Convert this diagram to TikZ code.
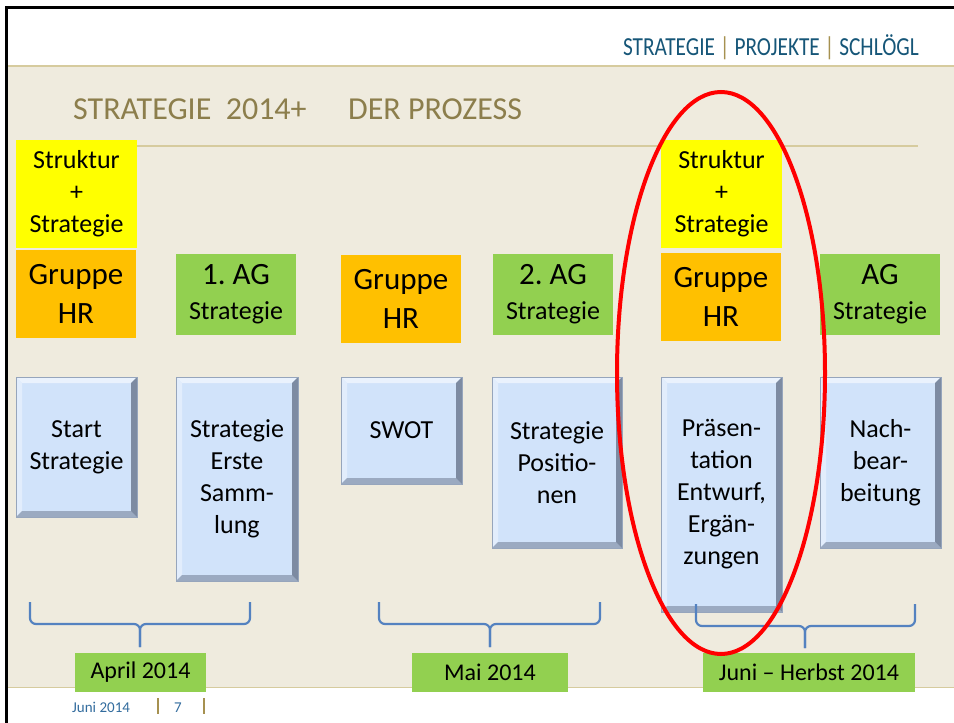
\documentclass[tikz,border=0pt]{standalone}
\usepackage{fontspec}
\setmainfont{Carlito}
\newfontfamily\headfont[FakeStretch=0.82]{Carlito}
\usepackage{tikz}
\usetikzlibrary{positioning}
\frenchspacing

\definecolor{slidebeige}{RGB}{239,235,222}
\definecolor{ruletan}{RGB}{214,203,158}
\definecolor{headblue}{RGB}{22,86,120}
\definecolor{titleolive}{RGB}{140,126,76}
\definecolor{barolive}{RGB}{166,145,80}
\definecolor{footblue}{RGB}{50,108,158}
\definecolor{hryellow}{RGB}{255,255,0}
\definecolor{hrorange}{RGB}{255,192,0}
\definecolor{aggreen}{RGB}{146,208,80}
\definecolor{cardblue}{RGB}{209,227,250}
\definecolor{cardlight}{RGB}{234,242,253}
\definecolor{carddark}{RGB}{110,124,146}
\definecolor{braceblue}{RGB}{84,130,192}

\tikzset{
box/.style={inner sep=0pt,align=center,font=\fontsize{26}{32}\selectfont},
yellowbox/.style={box,fill=hryellow,minimum width=121pt,minimum height=108pt},
groupbox/.style={box,fill=hrorange,minimum width=120pt,minimum height=88pt,font=\fontsize{31}{39}\selectfont},
agbox/.style={box,fill=aggreen,minimum width=120pt,minimum height=81pt},
datebox/.style={box,fill=aggreen,minimum height=39pt,font=\fontsize{24}{28}\selectfont},
card/.style={box,fill=cardblue,draw=carddark!60!cardblue,line width=0.6pt,minimum width=121pt,
path picture={
\path (path picture bounding box.north west) coordinate (nw)
(path picture bounding box.north east) coordinate (ne)
(path picture bounding box.south west) coordinate (sw)
(path picture bounding box.south east) coordinate (se);
\fill[cardlight] (nw) -- (ne) -- ([shift={(-6pt,-6pt)}]ne) -- ([shift={(6pt,-6pt)}]nw) -- cycle;
\fill[cardlight!70!cardblue] (nw) -- ([shift={(6pt,-6pt)}]nw) -- ([shift={(6pt,6pt)}]sw) -- (sw) -- cycle;
\fill[carddark!55!cardblue] (sw) -- ([shift={(6pt,6pt)}]sw) -- ([shift={(-6pt,6pt)}]se) -- (se) -- cycle;
\fill[carddark!85!cardblue] (se) -- ([shift={(-6pt,6pt)}]se) -- ([shift={(-6pt,-6pt)}]ne) -- (ne) -- cycle;
}},
timebrace/.style={braceblue,line width=2.2pt,rounded corners=6pt}
}

\begin{document}
\begin{tikzpicture}[x=1pt,y=-1pt]
\useasboundingbox (0,0) rectangle (954,723);
% slide background
\fill[white] (0,0) rectangle (954,723);
\fill[slidebeige] (8,66) rectangle (954,687);
\draw[ruletan,line width=1.5pt] (8,66)--(954,66);
\draw[ruletan,line width=1pt] (8,687)--(954,687);
\draw[line width=3pt] (6.5,723)--(6.5,7.5)--(954,7.5);
% header and title
\node [anchor=base east,inner sep=0pt,text=headblue,font=\headfont\fontsize{26}{30}\selectfont] (head) at(919,55){STRATEGIE {\color{barolive}|} PROJEKTE {\color{barolive}|} SCHLÖGL};
\node [anchor=base west,inner sep=0pt,text=titleolive,font=\fontsize{32}{36}\selectfont] (title) at(73,119){STRATEGIE\ \ 2014+};
\node [anchor=base west,inner sep=0pt,text=titleolive,font=\fontsize{32}{36}\selectfont] (process) at(348,119){DER PROZESS};
\draw[ruletan,line width=1.2pt] (75,146)--(918,146);
% who
\node [yellowbox] (struct1) at(76.5,194){Struktur\\+\\Strategie};
\node [yellowbox] (struct2) at(721.5,194){Struktur\\+\\Strategie};
\node [groupbox] (hr1) at(76,294){Gruppe\\HR};
\node [groupbox] (hr2) at(401,299){Gruppe\\HR};
\node [groupbox] (hr3) at(721,297){Gruppe\\HR};
\node [agbox] (ag1) at(236,294.5){{\fontsize{31}{35}\selectfont 1. AG}\\[3pt]Strategie};
\node [agbox] (ag2) at(553,294.5){{\fontsize{31}{35}\selectfont 2. AG}\\[3pt]Strategie};
\node [agbox] (ag3) at(880,294.5){{\fontsize{31}{35}\selectfont AG}\\[3pt]Strategie};
% what
\node [card,minimum height=140pt] (start) at(76.5,447){Start\\Strategie};
\node [card,minimum width=122pt,minimum height=204pt] (collect) at(237,479){Strategie\\Erste\\Samm-\\lung};
\node [card,minimum height=107pt] (swot) at(401.5,430.5){SWOT};
\node [card,minimum width=130pt,minimum height=171pt] (positions) at(557,462.5){Strategie\\Positio-\\nen};
\node [card,minimum height=235pt] (draft) at(721.5,494.5){Präsen-\\tation\\Entwurf,\\Ergän-\\zungen};
\node [card,minimum height=171pt] (rework) at(880.5,462.5){Nach-\\bear-\\beitung};
% when
\node [datebox,minimum width=131pt] (april) at(140.5,672.5){April 2014};
\node [datebox,minimum width=156pt] (may) at(490,672.5){Mai 2014};
\node [datebox,minimum width=212pt] (summer) at(809,672.5){Juni -- Herbst 2014};
\coordinate (tipapril) at(140,647);
\coordinate (tipmay) at(490,647);
\coordinate (tipsummer) at(805,648);
\draw[timebrace] (30,602) |- (140,624) -- (tipapril);
\draw[timebrace] (250,602) |- (140,624) -- (tipapril);
\draw[timebrace] (379,602) |- (490,624) -- (tipmay);
\draw[timebrace] (600,602) |- (490,624) -- (tipmay);
\draw[timebrace] (696,604) |- (805,626) -- (tipsummer);
\draw[timebrace] (915,604) |- (805,626) -- (tipsummer);
% highlight
\draw[red,line width=4pt] (721,373) ellipse [x radius=104,y radius=281];
% footer
\node [anchor=base west,inner sep=0pt,text=footblue,font=\fontsize{15}{18}\selectfont] (footdate) at(72,712){Juni 2014};
\node [anchor=base west,inner sep=0pt,text=footblue,font=\fontsize{15}{18}\selectfont] (page) at(174,712){7};
\draw[barolive,line width=1.3pt] (158,698)--(158,714);
\draw[barolive,line width=1.3pt] (204,698)--(204,714);
\end{tikzpicture}
\end{document}
